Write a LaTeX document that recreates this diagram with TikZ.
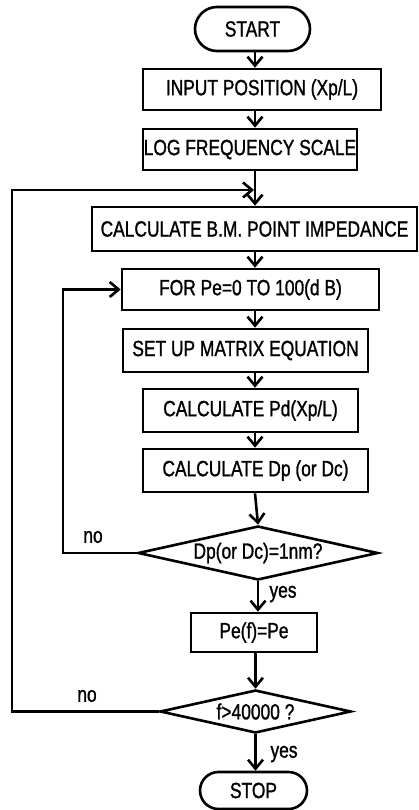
\documentclass[tikz,border=0pt]{standalone}
\usepackage{fontspec}
\setmainfont{Liberation Sans}[FakeStretch=0.79,FakeBold=1.2]
\usetikzlibrary{shapes.geometric,shapes.misc,arrows.meta}
\newcommand\chartfont{\fontsize{22}{26}\selectfont}
\begin{document}
\begin{tikzpicture}[x=1pt,y=-1pt,line width=2.6pt,font=\chartfont,
  box/.style={draw,rectangle,inner sep=0pt},
  term/.style={draw,rounded rectangle,inner sep=0pt},
  dia/.style={draw,diamond,inner sep=0pt},
  arr/.style={-{Straight Barb[length=9pt,width=15pt]}},
  lab/.style={inner sep=0pt}]
\useasboundingbox (0,0) rectangle (418,810);
\coordinate (sp) at (255,0);
\node[term,minimum width=115pt,minimum height=44pt] (start) at (252.5,29) {START};
\node[box,minimum width=238pt,minimum height=41pt] (in) at (262,89.5) {INPUT POSITION (Xp/L)};
\node[box,minimum width=214pt,minimum height=41pt] (log) at (250,149.5) {LOG FREQUENCY SCALE};
\node[box,minimum width=325pt,minimum height=44pt] (bm) at (254.5,229) {CALCULATE B.M. POINT IMPEDANCE};
\node[box,minimum width=257pt,minimum height=41pt] (for) at (250.5,289.5) {FOR Pe=0 TO 100(d B)};
\node[box,minimum width=245pt,minimum height=43pt] (setup) at (245.5,350.5) {SET UP MATRIX EQUATION};
\node[box,minimum width=215pt,minimum height=43pt] (pd) at (250.5,410.5) {CALCULATE Pd(Xp/L)};
\node[box,minimum width=225pt,minimum height=43pt] (dp) at (255.5,470.5) {CALCULATE Dp (or Dc)};
\node[dia,minimum width=240pt,minimum height=54pt,label=center:{Dp(or Dc)=1nm?}] (d1) at (258,553) {};
\node[box,minimum width=126pt,minimum height=39pt] (pef) at (254,632.5) {Pe(f)=Pe};
\node[dia,minimum width=191pt,minimum height=43pt,label=center:{f>40000 ?}] (d2) at (255.5,711.5) {};
\node[term,minimum width=107pt,minimum height=37pt] (stop) at (253.5,790.5) {STOP};
\coordinate (oj) at (254,190);
\coordinate (ol) at (12,190);
\coordinate (il) at (63,289.5);
\draw[arr] (start.south -| sp) -- (in.north -| sp);
\draw[arr] (in.south -| sp) -- (log.north -| sp);
\draw[arr] (log.south -| sp) -- (bm.north -| sp);
\draw[arr] (bm.south -| sp) -- (for.north -| sp);
\draw[arr] (for.south -| sp) -- (setup.north -| sp);
\draw[arr] (setup.south -| sp) -- (pd.north -| sp);
\draw[arr] (pd.south -| sp) -- (dp.north -| sp);
\draw[arr] (dp.south -| sp) -- (d1.north);
\draw[arr] (d1.south) -- (pef.north -| d1.south);
\draw[arr] (pef.south -| d2.north) -- (d2.north);
\draw[arr] (d2.south) -- (stop.north -| d2.south);
\draw[arr] (d1.west) -| (il) -- (for.west);
\draw[arr] (d2.west) -| (ol) -- (oj);
\node[lab] (no1) at (93,537) {no};
\node[lab] (no2) at (87,696) {no};
\node[lab] (yes1) at (283,594) {yes};
\node[lab] (yes2) at (284,754) {yes};
\end{tikzpicture}
\end{document}
